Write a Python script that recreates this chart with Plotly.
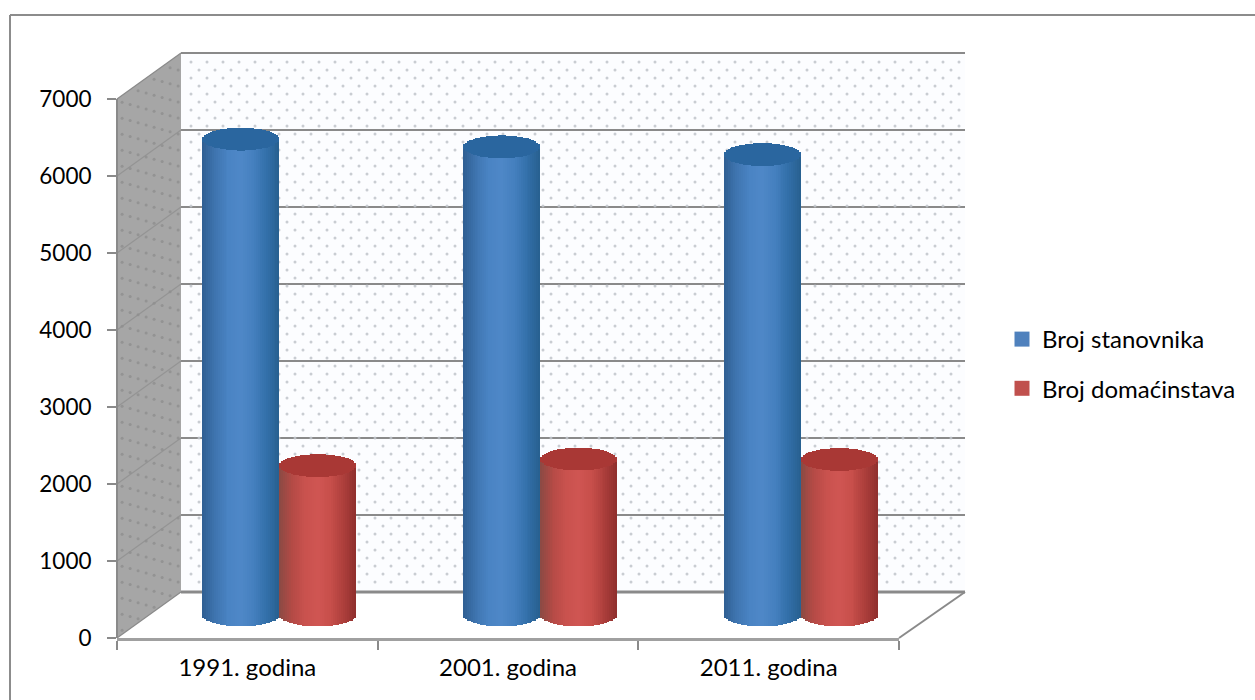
import numpy as np
import plotly.graph_objects as go

# ---- data ----
years = ["1991. godina", "2001. godina", "2011. godina"]
stanovnika = [6180, 6080, 5980]
domacinstava = [1940, 2025, 2020]
y_ticks = [0, 1000, 2000, 3000, 4000, 5000, 6000, 7000]
series_names = ["Broj stanovnika", "Broj domaćinstava"]
legend_colors = ["#4F81BD", "#C0504D"]
blue_stops = ["#2f5f92", "#3f75b0", "#4a84c4", "#4f88c8", "#4580bf", "#3370aa", "#28608f"]
red_stops = ["#8a4a44", "#b54a46", "#c9524e", "#d05653", "#c84f4b", "#ad3f3c", "#8f2f2d"]
cap_colors = ["#2a669f", "#a93835"]

W, H = 1255, 700
FX0, FX1, FY0, FY1 = 117, 899, 638, 99   # front axis pixels (x left/right, y at 0 / 7000)
DX, DY = 64, -46                         # depth vector of the 3-D box
BACK_X1 = 965
FONT = "Lato"
GRID = "#8a8a8a"

px = lambda v: v / W
py = lambda v: 1 - v / H
ymax = y_ticks[-1]
unit = (FY0 - FY1) / ymax


def hexmix(stops, t):
    rgb = np.array([[int(s[i:i + 2], 16) for i in (1, 3, 5)] for s in stops], float)
    pos = np.linspace(0, 1, len(stops))
    c = [np.interp(t, pos, rgb[:, k]) for k in range(3)]
    return "rgb(%d,%d,%d)" % tuple(c)


fig = go.Figure()

# invisible trace that gives the visible axes their categories
fig.add_trace(go.Scatter(x=years, y=[0, 0, 0], mode="markers", marker=dict(opacity=0),
                         showlegend=False, hoverinfo="skip", xaxis="x", yaxis="y"))

# legend entries
for i, name in enumerate(series_names):
    fig.add_trace(go.Scatter(x=[years[0]], y=[-1000], mode="markers", name=name, legendgroup=name,
                             marker=dict(symbol="square", size=15, color=legend_colors[i]),
                             xaxis="x", yaxis="y", hoverinfo="skip"))

# dotted wall texture, on a pixel overlay
bx, by = [], []
for r, yy in enumerate(np.arange(FY1 + DY + 9, FY0 + DY - 2, 8.0)):
    for xx in np.arange(FX0 + DX + 10 + (r % 2) * 8, BACK_X1 - 2, 16.0):
        bx.append(xx)
        by.append(yy)
fig.add_trace(go.Scatter(x=bx, y=by, mode="markers", xaxis="x2", yaxis="y2", showlegend=False,
                         hoverinfo="skip", marker=dict(size=3, color="#c0c4ca", opacity=0.85)))
sx, sy = [], []
for r, dy in enumerate(np.arange(7, FY0 - FY1, 8.0)):
    for c, d in enumerate(np.arange(0.08 + (r % 2) * 0.125, 1.0, 0.25)):
        sx.append(FX0 + DX * d)
        sy.append(FY1 + dy + DY * d)
fig.add_trace(go.Scatter(x=sx, y=sy, mode="markers", xaxis="x2", yaxis="y2", showlegend=False,
                         hoverinfo="skip", marker=dict(size=3, color="#8f8f8f", opacity=0.85)))

# cylinders: many thin bars on axes shifted to mid depth
STRIPS = 40
BAR_W = 0.295
CAP = 148
for k, (vals, stops, cap) in enumerate(zip([stanovnika, domacinstava], [blue_stops, red_stops], cap_colors)):
    left = -BAR_W + k * BAR_W
    w = BAR_W / STRIPS
    for s in range(STRIPS):
        t = (s + 0.5) / STRIPS
        e = CAP * np.sqrt(1 - (2 * t - 1) ** 2)
        v = np.array(vals, float)
        fig.add_trace(go.Bar(x=years, y=v, base=[-e] * 3, width=w * 1.06, offset=left + s * w,
                             marker=dict(color=hexmix(stops, t), line_width=0), xaxis="x3", yaxis="y3",
                             showlegend=False, hoverinfo="skip"))
        fig.add_trace(go.Bar(x=years, y=[2 * e] * 3, base=v - e, width=w * 1.06, offset=left + s * w,
                             marker=dict(color=cap, line_width=0), xaxis="x3", yaxis="y3",
                             showlegend=False, hoverinfo="skip"))

# box shapes
shapes = []


def line(x0, y0, x1, y1, color=GRID, width=2):
    shapes.append(dict(type="line", xref="paper", yref="paper", x0=px(x0), y0=py(y0), x1=px(x1), y1=py(y1),
                       line=dict(color=color, width=width), layer="below"))


def poly(points, fill):
    d = "M" + " L".join(f"{px(a):.5f},{py(b):.5f}" for a, b in points) + " Z"
    shapes.append(dict(type="path", xref="paper", yref="paper", path=d, fillcolor=fill,
                       line=dict(width=0), layer="below"))


poly([(FX0 + DX, FY1 + DY), (BACK_X1, FY1 + DY), (BACK_X1, FY0 + DY), (FX0 + DX, FY0 + DY)], "#fcfdff")
poly([(FX0, FY1), (FX0 + DX, FY1 + DY), (FX0 + DX, FY0 + DY), (FX0, FY0)], "#a6a6a6")
for v in y_ticks:
    ypx = FY0 - v * unit
    line(FX0 + DX, ypx + DY, BACK_X1, ypx + DY, width=3 if v == 0 else 2)
    line(FX0, ypx, FX0 + DX, ypx + DY, color="#949494" if 0 < v < ymax else GRID, width=1.2)
line(FX1, FY0, BACK_X1, FY0 + DY, width=2)
line(FX0, FY0, FX0, FY1, width=2)
# outer frame: only the left and top edges are in the picture
line(10, 700, 10, 15, color="#8c8c8c", width=2)
line(10, 15, 1255, 15, color="#8c8c8c", width=2)

hidden = dict(visible=False, showgrid=False, zeroline=False, fixedrange=True)
axis_common = dict(showgrid=False, zeroline=False)
LOW = -420
fig.update_layout(
    width=W, height=H, margin=dict(l=0, r=0, t=0, b=0, pad=0, autoexpand=False),
    paper_bgcolor="white", plot_bgcolor="rgba(0,0,0,0)",
    barmode="overlay", bargap=0, shapes=shapes,
    font=dict(family=FONT, size=22, color="#000000"),
    legend=dict(x=px(1002), y=py(317), xanchor="left", yanchor="top", tracegroupgap=15,
                font=dict(family=FONT, size=24), bgcolor="rgba(0,0,0,0)", itemclick=False),
    xaxis=dict(domain=[px(FX0), px(FX1)], type="category", categoryorder="array", categoryarray=years,
               range=[-0.5, 2.5], tickson="boundaries", ticks="outside", ticklen=9, tickcolor=GRID, tickwidth=1.5,
               showline=True, linecolor="#a0a0a0", linewidth=3, tickfont=dict(family=FONT, size=24, color="#000"),
               ticklabelstandoff=6, anchor="y", **axis_common),
    yaxis=dict(domain=[py(FY0), py(FY1)], range=[0, ymax], tickvals=y_ticks, ticks="outside", ticklen=9,
               tickcolor=GRID, tickwidth=1.5, showline=False, tickfont=dict(family=FONT, size=22.5, color="#000"),
               ticklabelstandoff=11, anchor="x", **axis_common),
    xaxis2=dict(domain=[0, 1], range=[0, W], anchor="y2", **hidden),
    yaxis2=dict(domain=[0, 1], range=[H, 0], anchor="x2", **hidden),
    xaxis3=dict(domain=[px(FX0 + DX / 2), px(FX1 + DX / 2)], type="category", categoryorder="array",
                categoryarray=years, range=[-0.5, 2.5], anchor="y3", **hidden),
    yaxis3=dict(domain=[py(FY0 + DY / 2 - LOW * unit), py(FY1 + DY / 2)], range=[LOW, ymax], anchor="x3", **hidden),
)

fig.write_html("out.html", config={"displayModeBar": False},
               post_script="document.body.style.margin='0';")
